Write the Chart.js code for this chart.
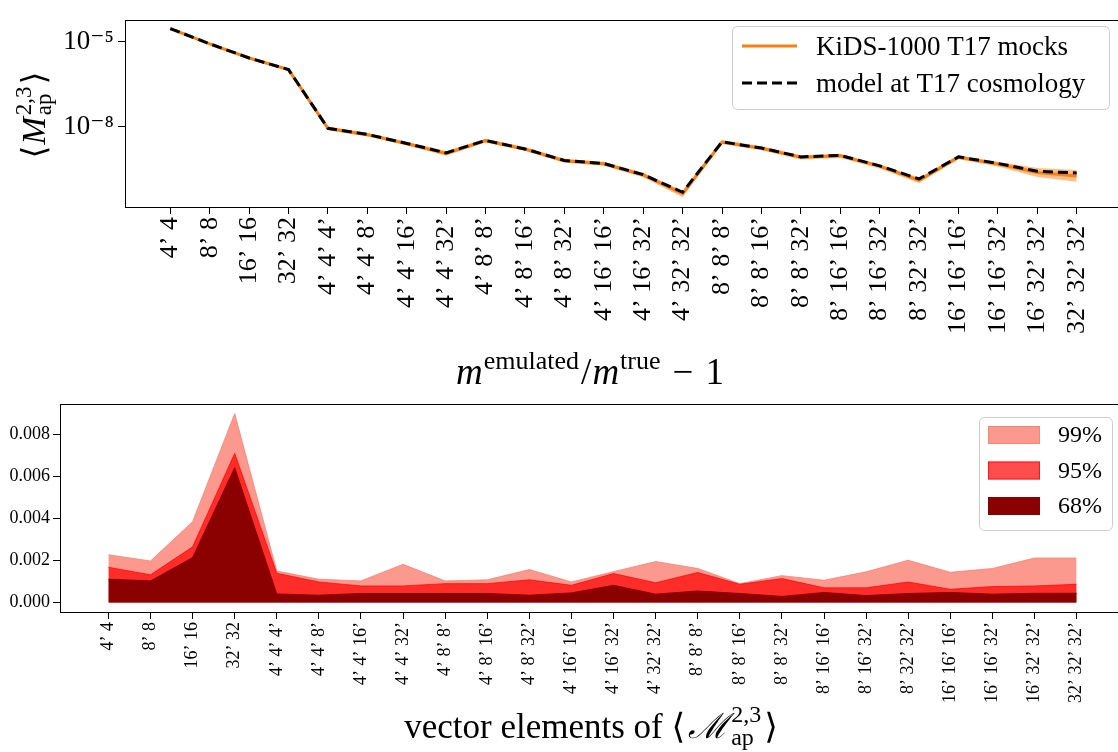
<!DOCTYPE html>
<html>
<head>
<meta charset="utf-8">
<script src="https://cdn.jsdelivr.net/npm/chart.js"></script>
<style>
  html, body { margin: 0; padding: 0; background: #fff; overflow: hidden; }
  #page { position: relative; width: 1118px; height: 752px; overflow: hidden; }
  canvas { position: absolute; left: 0; }
  #topChart { top: 0; }
  #bottomChart { top: 340px; }
</style>
</head>
<body>
<div id="page">
  <canvas id="topChart" width="1130" height="340"></canvas>
  <canvas id="bottomChart" width="1130" height="412"></canvas>
</div>
<script>
const SERIF = "'Liberation Serif', 'DejaVu Serif', serif";

// x categories (same for both panels)
const categories = [
    "4’ 4", "8’ 8", "16’ 16", "32’ 32",
    "4’ 4’ 4’", "4’ 4’ 8’", "4’ 4’ 16’", "4’ 4’ 32’", "4’ 8’ 8’", "4’ 8’ 16’", "4’ 8’ 32’",
    "4’ 16’ 16’", "4’ 16’ 32’", "4’ 32’ 32’", "8’ 8’ 8’", "8’ 8’ 16’", "8’ 8’ 32’",
    "8’ 16’ 16’", "8’ 16’ 32’", "8’ 32’ 32’", "16’ 16’ 16’", "16’ 16’ 32’", "16’ 32’ 32’", "32’ 32’ 32’"
];

// top panel: <M_ap^{2,3}>
const modelT17 = [2.95e-5, 8.5e-6, 2.7e-6, 1.05e-6, 8.9e-9, 5.4e-9, 2.6e-9, 1.2e-9, 3.3e-9, 1.66e-9, 6.5e-10, 5.1e-10,
    2.05e-10, 4.9e-11, 2.95e-9, 1.78e-9, 8.7e-10, 9.8e-10, 4.2e-10, 1.45e-10, 8.7e-10, 5.1e-10, 2.7e-10, 2.35e-10];
const mocksT17 = [2.95e-5, 8.5e-6, 2.7e-6, 1.05e-6, 8.8e-9, 5.3e-9, 2.55e-9, 1.15e-9, 3.25e-9, 1.64e-9, 6.4e-10, 5.0e-10,
    2.0e-10, 4.4e-11, 2.9e-9, 1.75e-9, 8.4e-10, 9.6e-10, 4.1e-10, 1.3e-10, 8.5e-10, 4.9e-10, 2.45e-10, 1.85e-10];
const mocksLow = [2.75e-5, 7.9e-6, 2.5e-6, 0.97e-6, 7.6e-9, 4.6e-9, 2.2e-9, 0.95e-9, 2.8e-9, 1.4e-9, 5.4e-10, 4.2e-10,
    1.65e-10, 3.3e-11, 2.5e-9, 1.5e-9, 7.0e-10, 8.0e-10, 3.4e-10, 1.05e-10, 7.2e-10, 4.0e-10, 1.7e-10, 1.15e-10];
const mocksHigh = [3.15e-5, 9.1e-6, 2.9e-6, 1.13e-6, 1.02e-8, 6.2e-9, 3.0e-9, 1.4e-9, 3.8e-9, 1.95e-9, 7.5e-10, 5.9e-10,
    2.4e-10, 5.6e-11, 3.4e-9, 2.05e-9, 1.0e-9, 1.12e-9, 4.8e-10, 1.6e-10, 1.0e-9, 5.8e-10, 3.5e-10, 3.0e-10];
const topYTicks = [1e-8, 1e-5];
const topYTickLabels = ['10⁻⁸', '10⁻⁵'];

// bottom panel: emulator accuracy quantiles
const q99 = [2.27e-3, 1.98e-3, 3.85e-3, 8.99e-3, 1.5e-3, 1.11e-3, 1.03e-3, 1.82e-3, 1.03e-3, 1.08e-3, 1.57e-3, 0.98e-3,
    1.47e-3, 1.95e-3, 1.62e-3, 0.9e-3, 1.28e-3, 1.06e-3, 1.46e-3, 2.01e-3, 1.44e-3, 1.62e-3, 2.12e-3, 2.12e-3];
const q95 = [1.68e-3, 1.32e-3, 2.65e-3, 7.1e-3, 1.39e-3, 0.98e-3, 0.79e-3, 0.79e-3, 0.9e-3, 0.9e-3, 1.08e-3, 0.82e-3,
    1.38e-3, 0.94e-3, 1.43e-3, 0.87e-3, 1.14e-3, 0.7e-3, 0.7e-3, 0.98e-3, 0.63e-3, 0.76e-3, 0.79e-3, 0.87e-3];
const q68 = [1.11e-3, 1.03e-3, 2.14e-3, 6.42e-3, 0.41e-3, 0.35e-3, 0.43e-3, 0.43e-3, 0.43e-3, 0.43e-3, 0.35e-3, 0.46e-3,
    0.82e-3, 0.4e-3, 0.55e-3, 0.43e-3, 0.29e-3, 0.48e-3, 0.33e-3, 0.43e-3, 0.48e-3, 0.4e-3, 0.44e-3, 0.44e-3];
const bottomYTicks = [0, 0.002, 0.004, 0.006, 0.008];
const bottomYTickLabels = ['0.000', '0.002', '0.004', '0.006', '0.008'];

const ORANGE = '#ff7f0e';
const C99 = 'rgba(250, 128, 114, 0.8)';
const C95 = 'rgba(255, 0, 0, 0.7)';
const C68 = '#8b0000';

function points(values) {
    return values.map((v, i) => ({ x: i, y: v }));
}

// text with super/subscripts, centred on x
function drawRich(ctx, parts, x, y) {
    const widths = parts.map((p) => {
        if (p.sup !== undefined) {
            ctx.font = `${p.size}px ${SERIF}`;
            return Math.max(ctx.measureText(p.sup).width, ctx.measureText(p.sub).width) + (p.gap || 0);
        }
        ctx.font = `${p.style || ''} ${p.size}px ${SERIF}`;
        return ctx.measureText(p.t).width + (p.gap || 0);
    });
    let cx = x - widths.reduce((a, b) => a + b, 0) / 2;
    ctx.textAlign = 'left';
    ctx.textBaseline = 'alphabetic';
    ctx.fillStyle = '#000';
    parts.forEach((p, i) => {
        if (p.sup !== undefined) {
            ctx.font = `${p.size}px ${SERIF}`;
            ctx.fillText(p.sup, cx, y + p.supDy);
            ctx.fillText(p.sub, cx, y + p.subDy);
        } else {
            ctx.font = `${p.style || ''} ${p.size}px ${SERIF}`;
            ctx.fillText(p.t, cx, y + (p.dy || 0));
        }
        cx += widths[i];
    });
}

function legendFrame(ctx, x, y, w, h) {
    const r = 5;
    ctx.beginPath();
    ctx.moveTo(x + r, y);
    ctx.arcTo(x + w, y, x + w, y + h, r);
    ctx.arcTo(x + w, y + h, x, y + h, r);
    ctx.arcTo(x, y + h, x, y, r);
    ctx.arcTo(x, y, x + w, y, r);
    ctx.closePath();
    ctx.fillStyle = 'rgba(255,255,255,0.8)';
    ctx.fill();
    ctx.strokeStyle = '#cccccc';
    ctx.lineWidth = 1;
    ctx.stroke();
}

const framePlugin = {
    id: 'frame',
    afterDatasetsDraw(chart) {
        const { ctx, chartArea: a } = chart;
        ctx.save();
        ctx.strokeStyle = '#000';
        ctx.lineWidth = 1;
        ctx.strokeRect(Math.round(a.left) + 0.5, Math.round(a.top) + 0.5,
            Math.round(a.right - a.left), Math.round(a.bottom - a.top));
        ctx.restore();
    },
};

const topDecor = {
    id: 'topDecor',
    afterDraw(chart) {
        const ctx = chart.ctx;
        ctx.save();
        // y axis title
        ctx.translate(45, 115);
        ctx.rotate(-Math.PI / 2);
        drawRich(ctx, [
            { t: '⟨', size: 33, gap: 1 },
            { t: 'M', size: 33, style: 'italic', gap: 2 },
            { sup: '2,3', sub: 'ap', size: 23, supDy: -14, subDy: 6, gap: 2 },
            { t: '⟩', size: 33 },
        ], 0, 0);
        ctx.restore();

        ctx.save();
        legendFrame(ctx, 732.5, 26.5, 377, 83);
        ctx.strokeStyle = ORANGE;
        ctx.lineWidth = 3;
        ctx.beginPath(); ctx.moveTo(742, 46); ctx.lineTo(797, 46); ctx.stroke();
        ctx.strokeStyle = '#000';
        ctx.setLineDash([10, 5]);
        ctx.beginPath(); ctx.moveTo(742, 83); ctx.lineTo(797, 83); ctx.stroke();
        ctx.setLineDash([]);
        ctx.fillStyle = '#000';
        ctx.font = `27px ${SERIF}`;
        ctx.textAlign = 'left';
        ctx.textBaseline = 'middle';
        ctx.fillText('KiDS-1000 T17 mocks', 816, 48);
        ctx.fillText('model at T17 cosmology', 816, 85);
        ctx.restore();
    },
};

const bottomDecor = {
    id: 'bottomDecor',
    afterDraw(chart) {
        const ctx = chart.ctx;
        ctx.save();
        drawRich(ctx, [
            { t: 'm', size: 37, style: 'italic', gap: 1 },
            { t: 'emulated', size: 26, dy: -15, gap: 2 },
            { t: '/', size: 37, gap: 1 },
            { t: 'm', size: 37, style: 'italic', gap: 1 },
            { t: 'true', size: 26, dy: -15, gap: 12 },
            { t: '−', size: 37, gap: 12 },
            { t: '1', size: 37 },
        ], 590, 44);
        drawRich(ctx, [
            { t: 'vector elements of ', size: 35 },
            { t: '⟨', size: 35, gap: 3 },
            { t: 'ℳ', size: 35, style: 'italic', gap: 3 },
            { sup: '2,3', sub: 'ap', size: 24, supDy: -16, subDy: 7, gap: 3 },
            { t: '⟩', size: 35 },
        ], 591, 398);

        legendFrame(ctx, 979.5, 77.5, 133, 113);
        const rows = [[C99, '99%'], [C95, '95%'], [C68, '68%']];
        rows.forEach(([col, label], i) => {
            const y = 86 + i * 35.5;
            ctx.fillStyle = col;
            ctx.fillRect(988, y, 52, 18);
            ctx.strokeStyle = col;
            ctx.lineWidth = 1;
            ctx.strokeRect(988.5, y + 0.5, 51, 17);
            ctx.fillStyle = '#000';
            ctx.font = `24px ${SERIF}`;
            ctx.textAlign = 'left';
            ctx.textBaseline = 'middle';
            ctx.fillText(label, 1058, y + 10);
        });
        ctx.restore();
    },
};

function xAxis(fontSize, height) {
    return {
        type: 'linear',
        min: -1.15,
        max: 24.15,
        afterBuildTicks: (s) => { s.ticks = categories.map((_, i) => ({ value: i })); },
        afterFit: (s) => { s.height = height; },
        ticks: {
            autoSkip: false,
            minRotation: 90,
            maxRotation: 90,
            padding: 3,
            color: '#000',
            font: { family: SERIF, size: fontSize },
            callback: (v) => categories[v],
        },
        grid: { drawOnChartArea: false, tickLength: 7, color: '#000', lineWidth: 1 },
        border: { display: false },
    };
}

new Chart(document.getElementById('topChart'), {
    type: 'line',
    data: {
        datasets: [
            { label: 'model at T17 cosmology', data: points(modelT17), borderColor: '#000', borderWidth: 3,
              borderDash: [10, 5], pointRadius: 0, fill: false, order: 0 },
            { label: 'KiDS-1000 T17 mocks', data: points(mocksT17), borderColor: ORANGE, borderWidth: 3,
              pointRadius: 0, fill: false, order: 1 },
            { label: 'high', data: points(mocksHigh), borderWidth: 0, borderColor: 'rgba(0,0,0,0)',
              backgroundColor: 'rgba(255,127,14,0.5)', pointRadius: 0, fill: 3, order: 2 },
            { label: 'low', data: points(mocksLow), borderWidth: 0, borderColor: 'rgba(0,0,0,0)',
              pointRadius: 0, fill: false, order: 3 },
        ],
    },
    options: {
        responsive: false,
        animation: false,
        devicePixelRatio: 1,
        layout: { padding: { top: 13, left: 0, right: 8, bottom: 0 } },
        plugins: { legend: { display: false }, tooltip: { enabled: false } },
        scales: {
            x: xAxis(26, 133),
            y: {
                type: 'logarithmic',
                min: 1.48e-11,
                max: 5.82e-5,
                afterBuildTicks: (s) => { s.ticks = topYTicks.map((v) => ({ value: v })); },
                afterFit: (s) => { s.width = 125; },
                ticks: {
                    padding: 4,
                    color: '#000',
                    font: { family: SERIF, size: 27 },
                    callback: (v, i) => topYTickLabels[i],
                },
                grid: { drawOnChartArea: false, tickLength: 7, color: '#000', lineWidth: 1 },
                border: { display: false },
            },
        },
    },
    plugins: [framePlugin, topDecor],
});

new Chart(document.getElementById('bottomChart'), {
    type: 'line',
    data: {
        datasets: [
            { label: '99%', data: points(q99), borderColor: C99, backgroundColor: C99, borderWidth: 1,
              pointRadius: 0, fill: 'origin', order: 3 },
            { label: '95%', data: points(q95), borderColor: C95, backgroundColor: C95, borderWidth: 1,
              pointRadius: 0, fill: 'origin', order: 2 },
            { label: '68%', data: points(q68), borderColor: C68, backgroundColor: C68, borderWidth: 1,
              pointRadius: 0, fill: 'origin', order: 1 },
        ],
    },
    options: {
        responsive: false,
        animation: false,
        devicePixelRatio: 1,
        layout: { padding: { top: 64, left: 0, right: 5, bottom: 0 } },
        plugins: { legend: { display: false }, tooltip: { enabled: false } },
        scales: {
            x: xAxis(18, 140),
            y: {
                type: 'linear',
                min: -0.00045,
                max: 0.00945,
                afterBuildTicks: (s) => { s.ticks = bottomYTicks.map((v) => ({ value: v })); },
                afterFit: (s) => { s.width = 60; },
                ticks: {
                    padding: 3,
                    color: '#000',
                    font: { family: SERIF, size: 18 },
                    callback: (v, i) => bottomYTickLabels[i],
                },
                grid: { drawOnChartArea: false, tickLength: 7, color: '#000', lineWidth: 1 },
                border: { display: false },
            },
        },
    },
    plugins: [framePlugin, bottomDecor],
});
</script>
</body>
</html>
